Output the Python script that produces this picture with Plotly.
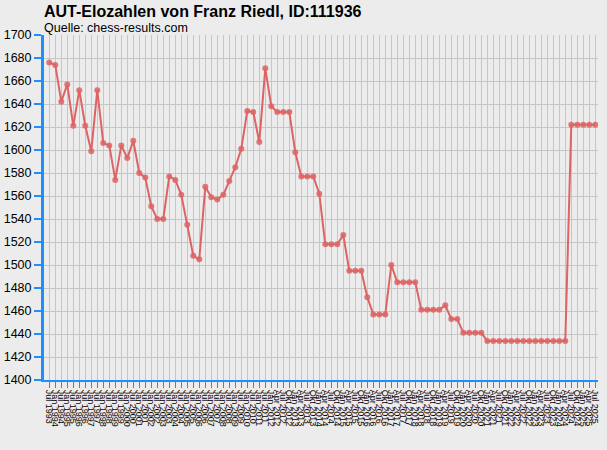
import plotly.graph_objects as go

# Elo values (one per rating list)
elo = [1676, 1674, 1642, 1657, 1621, 1652, 1621, 1599, 1652, 1606,
       1604, 1574, 1604, 1593, 1608, 1580, 1576, 1551, 1540, 1540,
       1577, 1574, 1561, 1535, 1508, 1505, 1568, 1559, 1557, 1561,
       1573, 1585, 1601, 1634, 1633, 1607, 1671, 1638, 1633, 1633,
       1633, 1598, 1577, 1577, 1577, 1562, 1518, 1518, 1518, 1526,
       1495, 1495, 1495, 1472, 1457, 1457, 1457, 1500, 1485, 1485,
       1485, 1485, 1461, 1461, 1461, 1461, 1465, 1453, 1453, 1441,
       1441, 1441, 1441, 1434, 1434, 1434, 1434, 1434, 1434, 1434,
       1434, 1434, 1434, 1434, 1434, 1434, 1434, 1622, 1622, 1622,
       1622, 1622]

# half-yearly lists Jul 1993 .. Jan 2012, then quarterly Apr 2012 .. Jul 2025
labels = []
for y in range(1993, 2012):
    labels.append(f"Jul {y}")
    labels.append(f"Jan {y + 1}")
quarters = ["Jan", "Apr", "Jul", "Okt"]
y, q = 2012, 1
while len(labels) < len(elo):
    labels.append(f"{quarters[q]} {y}")
    q += 1
    if q == 4:
        q = 0
        y += 1

x = list(range(len(elo)))
blue = "#1e8fff"
red = "#dc6464"

fig = go.Figure()
fig.add_trace(go.Scatter(x=x, y=elo, mode="lines+markers",
                         line=dict(color=red, width=2),
                         marker=dict(color=red, size=6, opacity=0.85)))

fig.update_layout(
    width=607, height=450,
    margin=dict(l=44, r=9, t=35, b=70),
    paper_bgcolor="#ececec", plot_bgcolor="#ececec",
    showlegend=False,
    font=dict(family="Liberation Sans, Arial", color="black"),
    annotations=[
        dict(text="<b>AUT-Elozahlen von Franz Riedl, ID:111936</b>", x=0, y=1,
             xref="paper", yref="paper", xshift=-2, yshift=34,
             xanchor="left", yanchor="top", showarrow=False,
             font=dict(size=16)),
        dict(text="Quelle: chess-results.com", x=0, y=1,
             xref="paper", yref="paper", xshift=-2, yshift=16,
             xanchor="left", yanchor="top", showarrow=False,
             font=dict(size=12.5)),
    ],
)

fig.update_xaxes(range=[-0.88, 91.45], tickmode="array", tickvals=x, ticktext=labels,
                 tickangle=90, tickfont=dict(size=9), automargin=False,
                 showgrid=True, gridcolor="#c6c6c6", gridwidth=1,
                 showline=True, linecolor=blue, linewidth=2,
                 ticks="outside", ticklen=6, tickcolor=blue, zeroline=False)
fig.update_yaxes(range=[1400, 1700], dtick=20, tickfont=dict(size=12.5), automargin=False,
                 showgrid=True, gridcolor="#c6c6c6", gridwidth=1,
                 showline=True, linecolor=blue, linewidth=3,
                 ticks="outside", ticklen=7, tickcolor=blue, tickwidth=2,
                 zeroline=False)

fig.write_html("out.html", config={"displayModeBar": False},
               post_script="document.body.style.margin='0';")
